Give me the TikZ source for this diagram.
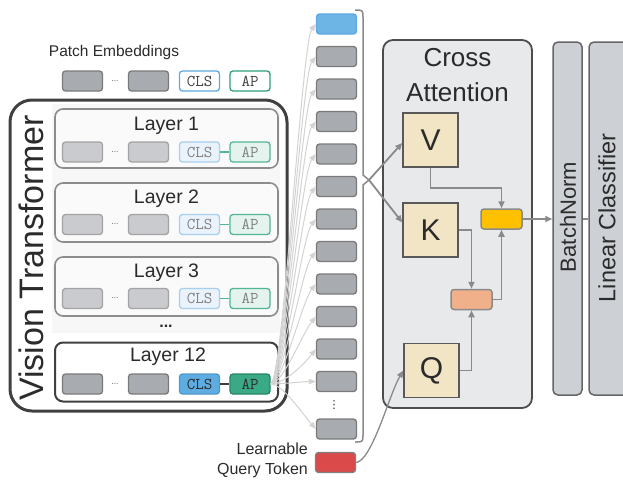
\documentclass[tikz,border=0pt]{standalone}
\usepackage{fontspec}
\setmainfont{Liberation Sans}
\newfontfamily\symfont{DejaVu Sans}
\usetikzlibrary{arrows.meta}
\definecolor{txt}{HTML}{2B2B2B}
\definecolor{tokF}{HTML}{A8ABAF}
\definecolor{tokD}{HTML}{7A7A7A}
\definecolor{fadeF}{HTML}{C9CBCE}
\definecolor{fadeD}{HTML}{A3A3A3}
\definecolor{clsD}{HTML}{5DA8E0}
\definecolor{clsF}{HTML}{5DADE2}
\definecolor{clsFade}{HTML}{EAF3FB}
\definecolor{clsFadeD}{HTML}{A9CFF0}
\definecolor{apD}{HTML}{2E9E7A}
\definecolor{apF}{HTML}{3AAA86}
\definecolor{apFade}{HTML}{E5F3EE}
\definecolor{apFadeD}{HTML}{52B593}
\definecolor{caF}{HTML}{E8E9EB}
\definecolor{qkvF}{HTML}{F2E5C5}
\definecolor{yel}{HTML}{FFC000}
\definecolor{sal}{HTML}{F0B08A}
\definecolor{barF}{HTML}{CDD0D4}
\definecolor{redT}{HTML}{DA4A4A}
\definecolor{arrG}{HTML}{8A8A8A}
\definecolor{lightA}{HTML}{D3D3D3}
\tikzset{
  tokbase/.style={rounded corners=3pt, line width=1.3pt, minimum width=40pt, minimum height=20pt, inner sep=0pt, font=\ttfamily\fontsize{16.5}{16.5}\selectfont},
  gtok/.style={tokbase, draw=tokD, fill=tokF},
  ftok/.style={tokbase, draw=fadeD, fill=fadeF},
  clstop/.style={tokbase, draw=clsD, fill=white, text=black!75},
  aptop/.style={tokbase, draw=apD, fill=white, text=black!75},
  clsfade/.style={tokbase, draw=clsFadeD, fill=clsFade, text=black!50},
  apfade/.style={tokbase, draw=apFadeD, fill=apFade, text=black!50},
  clsfull/.style={tokbase, draw=clsD!90!black, fill=clsF, text=txt},
  apfull/.style={tokbase, draw=apD!85!black, fill=apF, text=txt},
  dotsnode/.style={inner sep=0pt, font=\fontsize{8}{8}\selectfont, text=black!70},
  layerbox/.style={draw=black!45, line width=1.6pt, rounded corners=8pt, minimum width=223pt, minimum height=59pt, inner sep=0pt},
  layerlab/.style={inner sep=0pt, font=\fontsize{19.5}{20}\selectfont, text=txt},
  lightarr/.style={draw=lightA, line width=1pt, -{Triangle[length=7pt,width=5.5pt]}},
  garr/.style={draw=arrG, line width=1.8pt, -{Triangle[length=7pt,width=6pt]}},
  qkv/.style={draw=black!65, line width=1.5pt, fill=qkvF, minimum width=55pt, minimum height=54pt, inner sep=0pt, font=\fontsize{30}{30}\selectfont, text=txt},
  smallop/.style={draw=arrG, line width=1.5pt, rounded corners=3pt, minimum width=41pt, minimum height=20pt, inner sep=0pt},
  bar/.style={draw=black!60, line width=1.5pt, fill=barF, rounded corners=5pt, inner sep=0pt},
  barlab/.style={rotate=90, inner sep=0pt, text=txt},
}
\begin{document}
\begin{tikzpicture}[x=1pt,y=-1pt]
\useasboundingbox (0,0) rectangle (623,479);
\clip (0,0) rectangle (623,479);

% Patch embeddings
\node[inner sep=0pt, font=\fontsize{15.5}{16}\selectfont, text=txt] (pe) at (114,52) {Patch Embeddings};
\node[gtok] (pg1) at (82.5,81) {};
\node[dotsnode] (pdots) at (115,81) {...};
\node[gtok] (pg2) at (148.5,81) {};
\node[clstop] (pcls) at (199.5,81) {CLS};
\node[aptop] (pap) at (250,81) {AP};

% Vision transformer frame
\fill[black!3] (52,104) rectangle (280,333);
\draw[draw=black!75, line width=3pt, rounded corners=22pt] (10,100) rectangle (287,411);
\node[barlab, font=\fontsize{34}{34}\selectfont] (vt) at (31,258) {Vision Transformer};

% faded layers
\foreach \n/\lab/\yb/\yl/\yt in {la/Layer 1/109/126/152, lb/Layer 2/183/199/224.5, lc/Layer 3/257/273/298.5}{
  \node[layerbox, fill=black!2] (\n) at (166.5,\yb+29.5) {};
  \node[layerlab] (\n lab) at (166.5,\yl) {\lab};
  \node[ftok] (\n g1) at (82.5,\yt) {};
  \node[dotsnode] (\n dots) at (115,\yt) {...};
  \node[ftok] (\n g2) at (148.5,\yt) {};
  \node[clsfade] (\n cls) at (199.5,\yt) {CLS};
  \node[apfade] (\n ap) at (250,\yt) {AP};
  \draw[apFadeD, line width=1.3pt] (\n cls.east) -- (\n ap.west);
}
\node[inner sep=0pt, font=\bfseries\fontsize{16}{16}\selectfont, text=txt] (ldots) at (166,326) {...};

% layer 12
\node[layerbox, draw=black!75, line width=2pt, fill=white] (ld) at (166.5,372) {};
\node[layerlab] (ldlab) at (168,357) {Layer 12};
\node[gtok] (ldg1) at (82.5,384) {};
\node[dotsnode] (lddots) at (115,384) {...};
\node[gtok] (ldg2) at (148.5,384) {};
\node[clsfull] (ldcls) at (199.5,384) {CLS};
\node[apfull] (ldap) at (250,384) {AP};
\draw[black!75, line width=1.3pt] (ldcls.east) -- (ldap.west);

% token column
\node[tokbase, draw=clsD, fill=clsF!90!white] (c1) at (336.5,24) {};
\foreach \i/\y in {2/56.5,3/89,4/121.5,5/154,6/186.5,7/219,8/251.5,9/284,10/316.5,11/349,12/381.5}{
  \node[gtok] (c\i) at (336.5,\y) {};
}
\node[inner sep=0pt, font=\symfont\fontsize{11}{11}\selectfont, text=txt] (cdots) at (334,405) {⋮};
\node[gtok] (c13) at (336.5,429) {};
\node[tokbase, draw=black!50, fill=redT] (red) at (335.5,462.5) {};
\node[inner sep=0pt, align=right, anchor=east, font=\fontsize{16}{20}\selectfont, text=txt] (lqt) at (308,460) {Learnable\\Query Token};

% light arrows
\foreach \i in {1,...,11}{
  \draw[lightarr] (ldap.east) .. controls +(12,0) and +(-14,18) .. (c\i.west);
}
\draw[lightarr] (ldap.east) .. controls +(12,0) and +(-12,0) .. (c12.west);
\draw[lightarr] (ldap.east) .. controls +(12,0) and +(-14,-16) .. (c13.west);

% bracket
\coordinate (bmid) at (369,180);
\draw[arrG, line width=1.5pt, line join=round] (355,10) .. controls (363,10) .. (363,18) -- (363,175) -- (bmid) -- (363,185) -- (363,434) .. controls (363,442) .. (355,442);

% cross attention
\node[draw=black!70, line width=1.8pt, fill=caF, rounded corners=10pt, minimum width=149pt, minimum height=368pt, inner sep=0pt] (ca) at (457.5,224) {};
\node[inner sep=0pt, align=center, font=\fontsize{26}{35}\selectfont, text=txt] (catext) at (457.5,75) {Cross\\Attention};
\node[qkv] (V) at (430.5,140) {V};
\node[qkv] (K) at (430.5,230) {K};
\node[qkv] (Q) at (431.5,370.5) {Q};
\node[smallop, fill=yel] (Y) at (501.5,219) {};
\node[smallop, fill=sal] (O) at (471.5,299.5) {};

\draw[garr] (bmid) -- (V.186);
\draw[garr] (bmid) -- (K.165);
\draw[garr] (V.south) -- ++(0,20) -| (Y.north);
\draw[garr] (K.east) -| (O.north);
\draw[garr] (O.east) -| (Y.south);
\draw[garr] (Q.east) -| (O.south);
\draw[arrG, line width=1.3pt, -{Triangle[length=7pt,width=6pt]}] (red.east) .. controls +(16,-2) and +(-14,24) .. (Q.west);

% batchnorm and classifier
\node[bar, minimum width=29pt, minimum height=353pt] (bn) at (567.5,218.5) {};
\node[barlab, font=\fontsize{22}{22}\selectfont] (bnlab) at (568,217) {BatchNorm};
\node[bar, minimum width=51pt, minimum height=353pt] (lc) at (614.5,218.5) {};
\node[barlab, font=\fontsize{23.5}{24}\selectfont] (lclab) at (607,218) {Linear Classifier};
\draw[garr] (Y.east) -- (Y.east -| bn.west);
\draw[arrG, line width=1.5pt] (Y.east -| bn.east) -- (Y.east -| lc.west);
\end{tikzpicture}
\end{document}
